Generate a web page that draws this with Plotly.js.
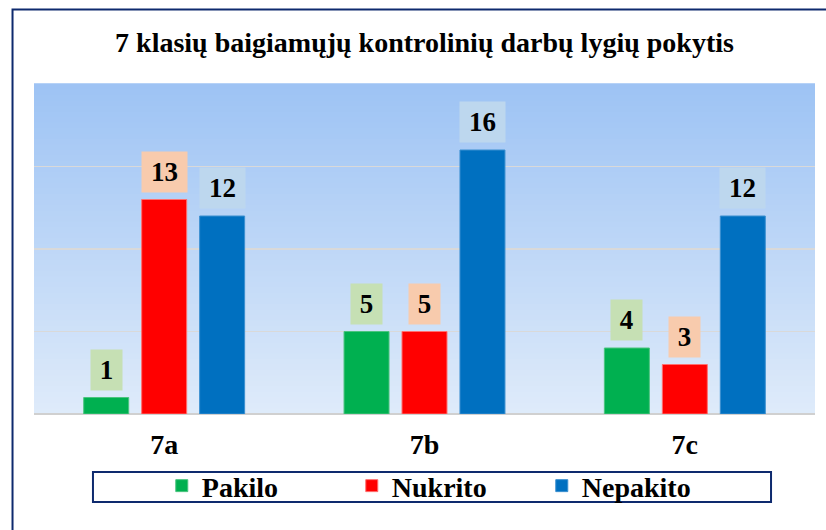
<!DOCTYPE html>
<html>
<head>
<meta charset="utf-8">
<script src="https://cdn.plot.ly/plotly-3.0.1.min.js"></script>
<style>html,body{margin:0;padding:0;background:#fff;}#chart{width:826px;height:530px;}</style>
</head>
<body>
<div id="chart"></div>
<script>
// ---- data ----
const categories = ["7a", "7b", "7c"];
const seriesNames = ["Pakilo", "Nukrito", "Nepakito"];
const pakilo = [1, 5, 4];
const nukrito = [13, 5, 3];
const nepakito = [12, 16, 12];
const chartTitle = "7 klasių baigiamųjų kontrolinių darbų lygių pokytis";

// ---- styles ----
const seriesValues = [pakilo, nukrito, nepakito];
const barColors = ["#00b050", "#ff0000", "#0070c0"];
const barLineColors = ["#4cc47f", "#ff6f6f", "#3b8fd0"];
const labelBg = ["#c6e0b4", "#f8cbad", "#bdd7ee"];
const FONT = "Liberation Serif";
const BARGAP = 0.332;
const GROUPGAP = 0.224;

const traces = seriesNames.map((name, s) => ({
  type: "bar",
  name: name,
  x: categories,
  y: seriesValues[s],
  marker: {color: barColors[s], line: {color: barLineColors[s], width: 1}},
  hoverinfo: "skip"
}));

// data label annotations placed over each bar (category serial number + group offset)
const annotations = [];
const slot = (1 - BARGAP) / seriesNames.length;
seriesValues.forEach((vals, s) => {
  vals.forEach((v, i) => {
    const txt = String(v);
    annotations.push({
      x: i + (s - (seriesNames.length - 1) / 2) * slot,
      y: v,
      xref: "x", yref: "y",
      text: txt,
      showarrow: false,
      yanchor: "bottom",
      yshift: 7,
      bgcolor: labelBg[s],
      borderpad: 0,
      width: txt.length * 14 + 17,
      height: 40,
      font: {family: FONT, size: 27, color: "#000", weight: 700}
    });
  });
});

// vertical gradient for plot area
const shapes = [];
const gradTop = [157, 195, 244], gradBot = [223, 235, 250];
const N = 60;
for (let k = 0; k < N; k++) {
  const t = (k + 0.5) / N;
  const c = gradTop.map((a, j) => Math.round(gradBot[j] + (a - gradBot[j]) * t));
  shapes.push({
    type: "rect", xref: "paper", yref: "paper", layer: "below",
    x0: 0, x1: 1, y0: k / N, y1: (k + 1) / N + 0.002,
    fillcolor: `rgb(${c[0]},${c[1]},${c[2]})`, line: {width: 0}
  });
}
// legend box
shapes.push({
  type: "rect", xref: "paper", yref: "paper", layer: "above",
  x0: 0.0755, x1: 0.9437, y0: -0.2667, y1: -0.1758,
  fillcolor: "rgba(0,0,0,0)", line: {color: "#0e2a6e", width: 2}
});
// outer chart border
shapes.push({
  type: "rect", xref: "paper", yref: "paper", layer: "above",
  x0: -0.0275, x1: 1.3, y0: -1, y1: 1.2258,
  fillcolor: "rgba(0,0,0,0)", line: {color: "#0e2a6e", width: 2}
});

const layout = {
  width: 826, height: 530,
  margin: {l: 34, r: 11, t: 84, b: 116},
  paper_bgcolor: "#ffffff",
  plot_bgcolor: "#dfeafa",
  title: {
    text: chartTitle,
    font: {family: FONT, size: 28, color: "#000", weight: 700},
    x: 0.5, xanchor: "center", xref: "paper",
    y: 47, yref: "container", yanchor: "middle"
  },
  barmode: "group",
  bargap: BARGAP,
  bargroupgap: GROUPGAP,
  xaxis: {
    type: "category",
    tickfont: {family: FONT, size: 28, color: "#000", weight: 700},
    showgrid: false, showline: false, ticks: "",
    ticklabelstandoff: 11
  },
  yaxis: {
    range: [0, 20], dtick: 5, showticklabels: false,
    showgrid: true, gridcolor: "#d9d9d9", gridwidth: 1.5,
    zeroline: true, zerolinecolor: "#d0d0d0", zerolinewidth: 2,
    fixedrange: true
  },
  showlegend: true,
  legend: {
    orientation: "h", x: 0.1636, xanchor: "left", y: -0.218, yanchor: "middle",
    font: {family: FONT, size: 28, color: "#000", weight: 700},
    bgcolor: "rgba(0,0,0,0)", borderwidth: 0,
    entrywidth: 145, entrywidthmode: "pixels", itemclick: false
  },
  annotations: annotations,
  shapes: shapes
};

Plotly.newPlot("chart", traces, layout, {displayModeBar: false, staticPlot: true});
</script>
</body>
</html>
